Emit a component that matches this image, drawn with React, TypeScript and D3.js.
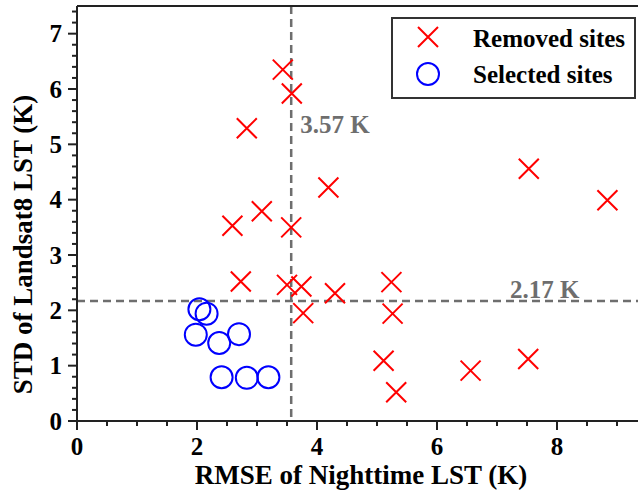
import React from "react";
import * as d3 from "d3";

// Sites discarded by the screening thresholds
const removedRmse = [3.43, 3.58, 2.83, 3.08, 2.59, 3.57, 4.19, 7.53, 8.84, 2.73, 3.5, 3.74, 3.77, 4.3, 5.24, 5.26, 5.11, 5.32, 6.56, 7.52];
const removedStd = [6.35, 5.92, 5.29, 3.79, 3.53, 3.5, 4.22, 4.56, 3.99, 2.52, 2.46, 2.43, 1.95, 2.31, 2.51, 1.94, 1.09, 0.52, 0.91, 1.12];

// Sites kept for validation
const selectedRmse = [2.04, 2.16, 1.98, 2.37, 2.7, 2.41, 2.83, 3.19];
const selectedStd = [2.02, 1.94, 1.56, 1.41, 1.57, 0.79, 0.78, 0.79];

// Threshold values
const rmseThreshold = 3.57;
const stdThreshold = 2.17;

const xMajorTicks = [0, 2, 4, 6, 8];
const yMajorTicks = [0, 1, 2, 3, 4, 5, 6, 7];

const W = 638;
const H = 497;
const FONT = "'Liberation Serif', 'Times New Roman', serif";
const GRAY = "#6e6e6e";

export default function App() {
  const x = d3.scaleLinear().domain([0, 9.35]).range([77, 638]);
  const y = d3.scaleLinear().domain([0, 7.5]).range([421, 6]);

  const xMinor = d3.range(0, 9.35, 0.5);
  const yMinor = d3.range(0, 7.51, 0.2);

  const removed = removedRmse.map((r, i) => [r, removedStd[i]]);
  const selected = selectedRmse.map((r, i) => [r, selectedStd[i]]);

  const cross = (cx: number, cy: number, s: number) =>
    `M${cx - s},${cy - s}L${cx + s},${cy + s}M${cx - s},${cy + s}L${cx + s},${cy - s}`;

  const [x0, x1] = x.range();
  const [y0, y1] = y.range();

  return (
    <svg
      width={W}
      height={H}
      style={{ position: "absolute", left: 0, top: 0, background: "#fff" }}
      fontFamily={FONT}
      fontWeight="bold"
    >
      <rect width={W} height={H} fill="#fff" />

      {/* threshold lines */}
      <line x1={x(rmseThreshold)} x2={x(rmseThreshold)} y1={y1} y2={y0} stroke={GRAY} strokeWidth={2.5} strokeDasharray="8,5" />
      <line x1={x0} x2={x1} y1={y(stdThreshold)} y2={y(stdThreshold)} stroke={GRAY} strokeWidth={2.5} strokeDasharray="8,5" />
      <text x={x(rmseThreshold) + 9} y={133} fontSize={25} fill={GRAY}>{`${rmseThreshold} K`}</text>
      <text x={510} y={298} fontSize={25} fill={GRAY}>{`${stdThreshold} K`}</text>

      {/* markers */}
      {selected.map(([r, s], i) => (
        <circle key={`s${i}`} cx={x(r)} cy={y(s)} r={11} fill="none" stroke="#0000ff" strokeWidth={2} />
      ))}
      {removed.map(([r, s], i) => (
        <path key={`r${i}`} d={cross(x(r), y(s), 10)} stroke="#ff0000" strokeWidth={2} fill="none" />
      ))}

      {/* frame */}
      <line x1={x0} x2={x1} y1={y0} y2={y0} stroke="#222" strokeWidth={2} />
      <line x1={x0} x2={x1} y1={y1} y2={y1} stroke="#222" strokeWidth={2} />
      <line x1={x0} x2={x0} y1={y1} y2={y0} stroke="#222" strokeWidth={2} />

      {/* x ticks */}
      {xMinor.map((v) => (
        <line key={`xm${v}`} x1={x(v)} x2={x(v)} y1={y0} y2={y0 + (v % 2 === 0 ? 9 : 5)} stroke="#222" strokeWidth={2} />
      ))}
      {xMajorTicks.map((v) => (
        <text key={`xl${v}`} x={x(v)} y={455} fontSize={25} textAnchor="middle" fill="#000">{v}</text>
      ))}

      {/* y ticks */}
      {yMinor.map((v) => {
        const major = Math.abs(v - Math.round(v)) < 1e-6;
        return (
          <line key={`ym${v.toFixed(1)}`} x1={x0 - (major ? 9 : 5)} x2={x0} y1={y(v)} y2={y(v)} stroke="#222" strokeWidth={2} />
        );
      })}
      {yMajorTicks.map((v) => (
        <text key={`yl${v}`} x={62} y={y(v)} dy="0.35em" fontSize={25} textAnchor="end" fill="#000">{v}</text>
      ))}

      {/* axis titles */}
      <text x={361} y={484} fontSize={27} textAnchor="middle" fill="#000">RMSE of Nighttime LST (K)</text>
      <text transform={`translate(32,${(y0 + y1) / 2 + 31}) rotate(-90)`} fontSize={27} textAnchor="middle" fill="#000">
        STD of Landsat8 LST (K)
      </text>

      {/* legend */}
      <rect x={392} y={18} width={243} height={80} fill="#fff" stroke="#333" strokeWidth={2} />
      <path d={cross(428, 37, 10)} stroke="#ff0000" strokeWidth={2} fill="none" />
      <circle cx={428} cy={74} r={11} fill="none" stroke="#0000ff" strokeWidth={2} />
      <text x={473} y={47} fontSize={25} fill="#000">Removed sites</text>
      <text x={473} y={83} fontSize={25} fill="#000">Selected sites</text>
    </svg>
  );
}
